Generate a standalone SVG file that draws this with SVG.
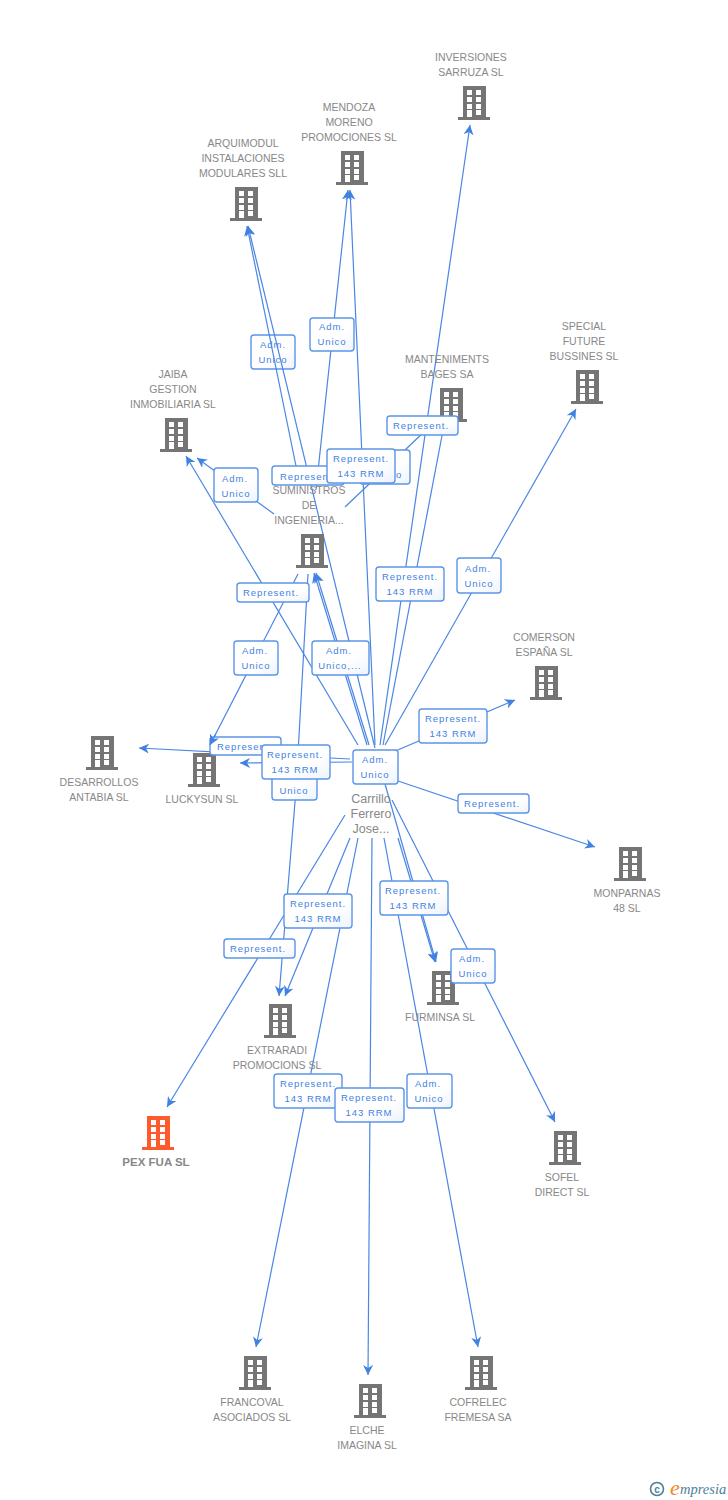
<svg xmlns="http://www.w3.org/2000/svg" width="728" height="1500" viewBox="0 0 728 1500">
<style>
.e{stroke:#4a86e4;stroke-width:1.2;fill:none;marker-end:url(#a)}
.n{stroke:#4a86e4;stroke-width:1.2;fill:none}
.b{fill:url(#g);stroke:#5b95e8;stroke-width:1.4}
.l{font:9.5px "Liberation Sans",Arial,sans-serif;fill:#3f82e2;letter-spacing:.95px;text-anchor:middle}
.t{font:10.5px "Liberation Sans",Arial,sans-serif;fill:#888;text-anchor:middle}
.c{font:12.500px "Liberation Sans",Arial,sans-serif;fill:#888;text-anchor:middle}
.p{font:bold 11.5px "Liberation Sans",Arial,sans-serif;fill:#888;text-anchor:middle}
</style>
<defs>
<linearGradient id="g" x1="0" y1="0" x2="1" y2="1"><stop offset="0" stop-color="#fff"/><stop offset=".6" stop-color="#fff"/><stop offset="1" stop-color="#eef3fb"/></linearGradient>
<marker id="a" markerUnits="userSpaceOnUse" markerWidth="12" markerHeight="10" refX="10" refY="5" orient="auto"><path d="M10 5L0 0L3 5L0 10Z" fill="#3f82e2"/></marker>
<symbol id="bld" viewBox="0 0 32 34" overflow="visible">
<path fill-rule="evenodd" d="M5 0H28V31H32V34H0V31H5ZM9 4V9H14V4ZM18 4V9H23V4ZM9 11V16H14V11ZM18 11V16H23V11ZM9 18V23H14V18ZM18 18V23H23V18ZM9 24V31H14V24ZM18 24V29H23V24Z"/>
</symbol>
</defs>
<rect width="728" height="1500" fill="#fff"/>
<g id="labels-under">
<rect class="b" x="251" y="335" width="44" height="34" rx="3"/><text class="l" x="273" y="348">Adm.</text><text class="l" x="273" y="363">Unico</text>
</g>
<g id="connectors">
<line class="e" x1="380" y1="745" x2="470" y2="125"/>
<line class="e" x1="375" y1="745" x2="350" y2="190"/>
<line class="e" x1="316" y1="490" x2="348" y2="190"/>
<line class="e" x1="375" y1="748" x2="248" y2="226"/>
<line class="e" x1="296" y1="466" x2="247" y2="226"/>
<line class="n" x1="383" y1="745" x2="445" y2="420"/>
<line class="n" x1="345" y1="507" x2="425" y2="431"/>
<line class="e" x1="385" y1="745" x2="576" y2="409"/>
<line class="e" x1="393" y1="752" x2="515" y2="700"/>
<line class="e" x1="395" y1="780" x2="595" y2="847"/>
<line class="e" x1="385" y1="784" x2="436" y2="962"/>
<line class="e" x1="398" y1="838" x2="435" y2="962"/>
<line class="e" x1="392" y1="800" x2="555" y2="1122"/>
<line class="e" x1="384" y1="838" x2="478" y2="1347"/>
<line class="e" x1="372" y1="838" x2="368" y2="1375"/>
<line class="e" x1="358" y1="838" x2="256" y2="1347"/>
<line class="e" x1="350" y1="838" x2="285" y2="996"/>
<line class="n" x1="308" y1="574" x2="296" y2="790"/>
<line class="e" x1="296" y1="790" x2="279" y2="996"/>
<line class="e" x1="345" y1="815" x2="167" y2="1107"/>
<line class="e" x1="352" y1="762" x2="240" y2="763"/>
<line class="e" x1="350" y1="759" x2="139" y2="748"/>
<line class="e" x1="298" y1="574" x2="210" y2="745"/>
<line class="e" x1="358" y1="745" x2="186" y2="456"/>
<line class="e" x1="274" y1="514" x2="197" y2="458"/>
<line class="e" x1="367" y1="745" x2="314" y2="573"/>
<line class="e" x1="369" y1="745" x2="316" y2="573"/>
</g>
<g id="n-inversiones"><use href="#bld" x="458" y="86" width="32" height="34" fill="#757575"/><text class="t" x="471" y="61">INVERSIONES</text><text class="t" x="471" y="76">SARRUZA SL</text></g>
<g id="n-mendoza"><use href="#bld" x="336" y="151" width="32" height="34" fill="#757575"/><text class="t" x="349" y="111">MENDOZA</text><text class="t" x="349" y="126">MORENO</text><text class="t" x="349" y="141">PROMOCIONES SL</text></g>
<g id="n-arquimodul"><use href="#bld" x="230" y="187" width="32" height="34" fill="#757575"/><text class="t" x="243" y="147">ARQUIMODUL</text><text class="t" x="243" y="162">INSTALACIONES</text><text class="t" x="243" y="177">MODULARES SLL</text></g>
<g id="n-manteniments"><use href="#bld" x="435" y="388" width="32" height="34" fill="#757575"/><text class="t" x="447" y="363">MANTENIMENTS</text><text class="t" x="447" y="378">BAGES SA</text></g>
<g id="n-special"><use href="#bld" x="571" y="370" width="32" height="34" fill="#757575"/><text class="t" x="584" y="330">SPECIAL</text><text class="t" x="584" y="345">FUTURE</text><text class="t" x="584" y="360">BUSSINES SL</text></g>
<g id="n-jaiba"><use href="#bld" x="160" y="418" width="32" height="34" fill="#757575"/><text class="t" x="173" y="378">JAIBA</text><text class="t" x="173" y="393">GESTION</text><text class="t" x="173" y="408">INMOBILIARIA SL</text></g>
<g id="n-suministros"><use href="#bld" x="296" y="534" width="32" height="34" fill="#757575"/><text class="t" x="309" y="494">SUMINISTROS</text><text class="t" x="309" y="509">DE</text><text class="t" x="309" y="524">INGENIERIA...</text></g>
<g id="n-comerson"><use href="#bld" x="530" y="666" width="32" height="34" fill="#757575"/><text class="t" x="544" y="641">COMERSON</text><text class="t" x="544" y="656">ESPAÑA SL</text></g>
<g id="n-desarrollos"><use href="#bld" x="86" y="736" width="32" height="34" fill="#757575"/><text class="t" x="99" y="786">DESARROLLOS</text><text class="t" x="99" y="801">ANTABIA SL</text></g>
<g id="n-luckysun"><use href="#bld" x="188" y="753" width="32" height="34" fill="#757575"/><text class="t" x="202" y="803">LUCKYSUN SL</text></g>
<g id="n-carrillo"><text class="c" x="371" y="803">Carrillo</text><text class="c" x="371" y="818">Ferrero</text><text class="c" x="371" y="833">Jose...</text></g>
<g id="n-monparnas"><use href="#bld" x="614" y="847" width="32" height="34" fill="#757575"/><text class="t" x="627" y="897">MONPARNAS</text><text class="t" x="627" y="912">48 SL</text></g>
<g id="n-furminsa"><use href="#bld" x="427" y="971" width="32" height="34" fill="#757575"/><text class="t" x="440" y="1021">FURMINSA SL</text></g>
<g id="n-extraradi"><use href="#bld" x="264" y="1004" width="32" height="34" fill="#757575"/><text class="t" x="277" y="1054">EXTRARADI</text><text class="t" x="277" y="1069">PROMOCIONS SL</text></g>
<g id="n-pex"><use href="#bld" x="142" y="1116" width="32" height="34" fill="#ff5a2c"/><text class="p" x="156" y="1166">PEX FUA SL</text></g>
<g id="n-sofel"><use href="#bld" x="549" y="1131" width="32" height="34" fill="#757575"/><text class="t" x="562" y="1181">SOFEL</text><text class="t" x="562" y="1196">DIRECT SL</text></g>
<g id="n-francoval"><use href="#bld" x="239" y="1356" width="32" height="34" fill="#757575"/><text class="t" x="252" y="1406">FRANCOVAL</text><text class="t" x="252" y="1421">ASOCIADOS SL</text></g>
<g id="n-elche"><use href="#bld" x="354" y="1384" width="32" height="34" fill="#757575"/><text class="t" x="367" y="1434">ELCHE</text><text class="t" x="367" y="1449">IMAGINA SL</text></g>
<g id="n-cofrelec"><use href="#bld" x="465" y="1356" width="32" height="34" fill="#757575"/><text class="t" x="478" y="1406">COFRELEC</text><text class="t" x="478" y="1421">FREMESA SA</text></g>
<g id="labels">
<rect class="b" x="310" y="318" width="44" height="33" rx="3"/><text class="l" x="332" y="330">Adm.</text><text class="l" x="332" y="345">Unico</text>
<rect class="b" x="360" y="450" width="50" height="34" rx="3"/><text class="l" x="399" y="478">o</text>
<rect class="b" x="387" y="416" width="71" height="19" rx="3"/><text class="l" x="421" y="429">Represent.</text>
<rect class="b" x="272" y="466" width="72" height="19" rx="3"/><text class="l" x="308" y="480">Represent.</text>
<rect class="b" x="327" y="449" width="68" height="34" rx="3"/><text class="l" x="361" y="462">Represent.</text><text class="l" x="361" y="477">143 RRM</text>
<rect class="b" x="214" y="468" width="44" height="34" rx="3"/><text class="l" x="235" y="482">Adm.</text><text class="l" x="236" y="497">Unico</text>
<rect class="b" x="376" y="567" width="68" height="34" rx="3"/><text class="l" x="410" y="580">Represent.</text><text class="l" x="410" y="595">143 RRM</text>
<rect class="b" x="457" y="558" width="44" height="35" rx="3"/><text class="l" x="478" y="572">Adm.</text><text class="l" x="479" y="587">Unico</text>
<rect class="b" x="237" y="583" width="72" height="19" rx="3"/><text class="l" x="271" y="596">Represent.</text>
<rect class="b" x="234" y="641" width="44" height="34" rx="3"/><text class="l" x="255" y="654">Adm.</text><text class="l" x="256" y="669">Unico</text>
<rect class="b" x="312" y="641" width="57" height="34" rx="3"/><text class="l" x="339" y="654">Adm.</text><text class="l" x="340" y="669">Unico,...</text>
<rect class="b" x="419" y="709" width="68" height="34" rx="3"/><text class="l" x="453" y="722">Represent.</text><text class="l" x="453" y="737">143 RRM</text>
<rect class="b" x="210" y="737" width="71" height="18" rx="3"/><text class="l" x="245" y="750">Represent.</text>
<rect class="b" x="272" y="766" width="45" height="34" rx="3"/><text class="l" x="294" y="794">Unico</text>
<rect class="b" x="262" y="745" width="68" height="34" rx="3"/><text class="l" x="295" y="758">Represent.</text><text class="l" x="295" y="773">143 RRM</text>
<rect class="b" x="353" y="750" width="45" height="34" rx="3"/><text class="l" x="375" y="763">Adm.</text><text class="l" x="375" y="778">Unico</text>
<rect class="b" x="458" y="794" width="71" height="19" rx="3"/><text class="l" x="492" y="807">Represent.</text>
<rect class="b" x="284" y="894" width="68" height="34" rx="3"/><text class="l" x="318" y="907">Represent.</text><text class="l" x="318" y="922">143 RRM</text>
<rect class="b" x="380" y="881" width="68" height="34" rx="3"/><text class="l" x="413" y="894">Represent.</text><text class="l" x="413" y="909">143 RRM</text>
<rect class="b" x="224" y="939" width="71" height="19" rx="3"/><text class="l" x="258" y="952">Represent.</text>
<rect class="b" x="451" y="949" width="44" height="34" rx="3"/><text class="l" x="472" y="962">Adm.</text><text class="l" x="473" y="977">Unico</text>
<rect class="b" x="274" y="1074" width="68" height="34" rx="3"/><text class="l" x="308" y="1087">Represent.</text><text class="l" x="308" y="1102">143 RRM</text>
<rect class="b" x="335" y="1088" width="69" height="34" rx="3"/><text class="l" x="369" y="1101">Represent.</text><text class="l" x="369" y="1116">143 RRM</text>
<rect class="b" x="407" y="1074" width="45" height="34" rx="3"/><text class="l" x="428" y="1087">Adm.</text><text class="l" x="429" y="1102">Unico</text>
</g>
<g id="connectors-over">
<line class="e" x1="216" y1="733.500" x2="210" y2="745"/>
</g>
<g id="logo"><circle cx="657" cy="1489" r="6.500" fill="none" stroke="#4b8199" stroke-width="1.6"/><text x="657" y="1492.500" text-anchor="middle" style="font:bold 10px 'Liberation Sans',sans-serif;fill:#4b8199">c</text><text x="670" y="1495" style="font:italic 22px 'Liberation Serif',serif;fill:#f08a24">e</text><text x="680" y="1494" style="font:italic 14.5px 'Liberation Serif',serif;fill:#4b8199">mpresia</text></g>
</svg>
